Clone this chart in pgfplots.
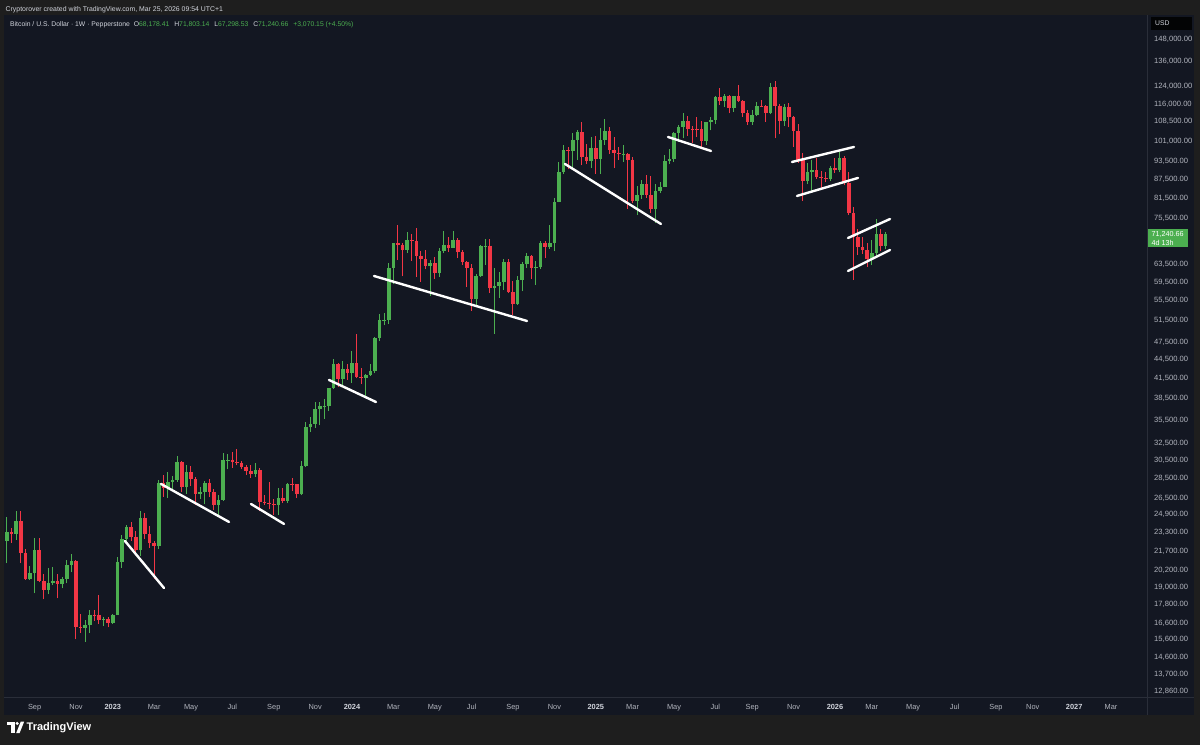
\documentclass[border=0pt]{standalone}
\usepackage{fontspec}
\setmainfont{Liberation Sans}
\usepackage{pgfplots}
\usepackage{pgfplotstable}
\pgfplotsset{compat=1.18}
\definecolor{outerbg}{HTML}{1E1E1E}
\definecolor{panebg}{HTML}{131722}
\definecolor{cgreen}{HTML}{4CAF50}
\definecolor{cred}{HTML}{F23645}
\definecolor{tickc}{HTML}{B2B5BE}
\definecolor{yearc}{HTML}{D1D4DC}
\definecolor{sepc}{HTML}{2A2E39}
\definecolor{hdrc}{HTML}{D1D4DC}
\definecolor{valgreen}{HTML}{4CAF50}
\newcommand{\yr}[1]{{\color{yearc}\bfseries #1}}

\pgfplotstableread{
w o h l c
0 22580 24670 20750 23300
1 23300 23650 22400 23180
2 23180 25200 22670 24300
3 24300 25200 20770 21530
4 21530 21900 19530 19550
5 19550 20580 19500 19990
6 19990 22800 18540 21830
7 21830 22790 19320 19420
8 19420 19950 18125 18800
9 18800 20400 18470 19310
10 19310 20480 19160 19420
11 19420 19950 18200 19200
12 19200 19700 18900 19570
13 19570 21020 19250 20630
14 20630 21480 20050 20920
15 20920 21050 15600 16330
16 16330 17190 16000 16280
17 16280 16800 15480 16450
18 16450 17400 16000 17120
19 17120 17430 16750 17090
20 17090 18400 16530 16780
21 16780 16940 16400 16840
22 16840 16970 16330 16610
23 16610 17180 16520 17130
24 17130 21260 17100 20880
25 20880 23080 20400 22700
26 22700 23950 22300 23740
27 23740 24250 22600 22930
28 22930 23400 21450 21780
29 21780 25250 21350 24630
30 24630 25100 22700 23160
31 23160 23880 21970 22430
32 22430 22600 19570 22130
33 22130 28400 21900 27990
34 27990 28870 26650 27480
35 27480 29180 26520 28170
36 28170 28800 27200 28330
37 28330 31000 28170 30300
38 30300 30480 27130 27590
39 27590 30030 26950 29230
40 29230 29840 27700 28430
41 28430 28640 25850 26920
42 26920 27650 26380 27110
43 27110 28200 25880 28080
44 28080 28450 26600 27110
45 27110 27400 25350 25840
46 25840 26800 24800 26340
47 26340 31400 26250 30520
48 30520 31270 29500 30600
49 30600 31500 29700 30290
50 30290 31800 29950 30230
51 30230 30430 29500 29780
52 29780 29980 28900 29280
53 29280 30000 28600 29050
54 29050 30250 28700 29400
55 29400 29680 25200 26100
56 26100 26800 25800 26050
57 26050 28150 25400 25870
58 25870 26400 24900 25840
59 25840 27480 24900 26530
60 26530 27480 26000 26250
61 26250 28050 26000 27980
62 27980 28600 27200 27920
63 27920 27980 26500 26860
64 26860 30400 26800 29900
65 29900 35200 29800 34530
66 34530 35900 33940 35010
67 35010 37980 34500 37060
68 37060 37980 34800 37360
69 37360 38440 35650 37450
70 37450 40000 36700 39970
71 39970 44700 39900 43780
72 43780 44000 40200 41360
73 41360 44300 40550 42990
74 42990 43800 41300 42280
75 42280 45900 40750 43950
76 43950 49000 41500 41700
77 41700 43200 40600 41580
78 41580 42200 38500 42030
79 42030 43860 41880 42580
80 42580 48500 42270 48300
81 48300 52800 47700 51650
82 51650 52950 50600 51730
83 51730 64000 50900 62700
84 62700 69000 59000 68950
85 68950 73800 64600 68400
86 68400 68900 60800 67200
87 67200 71750 66500 69650
88 69650 71300 64500 69360
89 69360 72800 60700 65700
90 65700 66900 59600 64950
91 64950 67200 62400 63100
92 63100 64700 56500 63900
93 63900 65500 60200 61480
94 61480 67700 60700 66950
95 66950 71950 66300 68500
96 68500 70600 66600 67750
97 67750 71950 67600 69650
98 69650 70200 65100 66650
99 66650 67200 63400 64250
100 64250 64500 58400 62700
101 62700 63800 53500 55850
102 55850 61400 54300 60800
103 60800 68400 60700 68160
104 68160 70000 63400 68250
105 68250 70000 57100 58150
106 58150 62700 49000 58700
107 58700 61800 56100 59500
108 59500 65000 57800 64200
109 64200 64900 57200 57300
110 57300 59800 52550 54850
111 54850 61000 54600 59950
112 59950 64150 57500 63600
113 63600 66500 62700 65650
114 65650 65800 60200 62820
115 62820 64500 58900 62870
116 62870 69400 62500 69000
117 69000 69500 65100 68000
118 68000 73600 67500 68800
119 68800 81500 66800 80400
120 80400 93500 80200 89850
121 89850 99600 89400 97700
122 97700 98900 90800 97300
123 97300 104000 90500 101200
124 101200 105300 94200 104400
125 104400 108300 92200 95100
126 95100 99900 92500 93700
127 93700 102500 91200 98300
128 98300 102700 89300 94500
129 94500 106000 89300 101300
130 101300 109500 99500 104800
131 104800 106400 96200 97700
132 97700 102500 91200 96500
133 96500 98800 94100 96100
134 96100 99500 93400 96300
135 96300 96500 78200 94200
136 94200 95000 80000 80700
137 80700 85300 76600 82600
138 82600 87400 81200 86100
139 86100 88800 81600 82400
140 82400 88500 77100 78400
141 78400 86100 74400 83700
142 83700 86500 83000 85100
143 85100 95800 85000 93700
144 93700 97900 92800 94300
145 94300 104300 93400 104100
146 104100 107100 100700 106400
147 106400 112000 102000 109000
148 109000 110700 103000 105700
149 105700 106800 100300 105600
150 105600 110500 102600 105500
151 105500 108900 98200 100900
152 100900 108500 99600 108400
153 108400 110500 105100 109200
154 109200 119500 107500 119000
155 119000 123200 115700 117300
156 117300 120200 114700 119400
157 119400 119800 112000 114200
158 114200 119300 112600 119300
159 119300 124500 116800 117400
160 117400 117600 110600 112000
161 112000 113300 107300 108300
162 108300 113400 107300 111200
163 111200 116800 110700 115300
164 115300 117900 114800 115200
165 115200 115400 108600 112200
166 112200 125700 111600 123500
167 123500 126200 102000 115200
168 115200 116000 103500 108700
169 108700 116000 106800 114500
170 114500 116400 106300 110600
171 110600 110800 98900 104700
172 104700 107500 93000 94200
173 94200 96600 80600 86900
174 86900 93000 86000 89800
175 89800 94100 83800 90500
176 90500 94600 87600 88400
177 88400 90300 84400 87900
178 87900 90000 86500 87500
179 87500 91800 86800 91400
180 91400 94800 89500 90600
181 90600 97000 89800 94800
182 94800 95500 85500 86200
183 86200 89900 76500 77000
184 77000 79000 60000 70400
185 70400 72500 66000 68000
186 68000 70500 66200 67000
187 67000 69000 63000 64900
188 64900 69600 63500 66400
189 66400 75500 65500 71200
190 71200 72600 66800 68178
191 68178 71803 67298 71240
}\ohlc

\begin{document}
\begin{tikzpicture}[x=1pt,y=1pt]
\useasboundingbox (0,0) rectangle (1200,745);
\fill[outerbg] (0,0) rectangle (1200,745);
\fill[panebg] (4,30) rectangle (1194,730);
\draw[sepc, line width=0.8pt] (1147,30) -- (1147,730);
\draw[sepc, line width=0.8pt] (4,47.5) -- (1194,47.5);

\begin{axis}[
  at={(4pt,48pt)}, anchor=south west,
  width=1143pt, height=682pt, scale only axis,
  xmin=-0.652, xmax=247.83,
  ymode=log, ymin=12577, ymax=161925,
  axis line style={draw=none},
  tick style={draw=none},
  major tick length=0pt, minor tick num=0,
  xtick={6,15,23,32,40,49,58,67,75,84,93,101,110,119,128,136,145,154,162,171,180,188,197,206,215,223,232,240},
  xticklabels={Sep,Nov,\yr{2023},Mar,May,Jul,Sep,Nov,\yr{2024},Mar,May,Jul,Sep,Nov,\yr{2025},Mar,May,Jul,Sep,Nov,\yr{2026},Mar,May,Jul,Sep,Nov,\yr{2027},Mar},
  xticklabel style={anchor=base, yshift=-13pt, font=\fontsize{7.4}{8.5}\selectfont, text=tickc},
  ytick={12860,13700,14600,15600,16600,17800,19000,20200,21700,23300,24900,26500,28500,30500,32500,35500,38500,41500,44500,47500,51500,55500,59500,63500,75500,81500,87500,93500,101000,108500,116000,124000,136000,148000},
  yticklabels={{12,860.00},{13,700.00},{14,600.00},{15,600.00},{16,600.00},{17,800.00},{19,000.00},{20,200.00},{21,700.00},{23,300.00},{24,900.00},{26,500.00},{28,500.00},{30,500.00},{32,500.00},{35,500.00},{38,500.00},{41,500.00},{44,500.00},{47,500.00},{51,500.00},{55,500.00},{59,500.00},{63,500.00},{75,500.00},{81,500.00},{87,500.00},{93,500.00},{101,000.00},{108,500.00},{116,000.00},{124,000.00},{136,000.00},{148,000.00}},
  yticklabel pos=right,
  yticklabel style={anchor=west, xshift=3.7pt, font=\fontsize{7.6}{8.5}\selectfont, text=tickc},
]
\pgfplotsforeachungrouped \ri in {0,...,191}{%
  \pgfplotstablegetelem{\ri}{o}\of{\ohlc}\let\vo\pgfplotsretval
  \pgfplotstablegetelem{\ri}{h}\of{\ohlc}\let\vh\pgfplotsretval
  \pgfplotstablegetelem{\ri}{l}\of{\ohlc}\let\vl\pgfplotsretval
  \pgfplotstablegetelem{\ri}{c}\of{\ohlc}\let\vc\pgfplotsretval
  \ifnum\vc<\vo\relax \def\cc{cred}\else\def\cc{cgreen}\fi
  \edef\tmp{%
    \noexpand\addplot[\cc, mark=none, line width=1pt, forget plot] coordinates {(\ri,\vl) (\ri,\vh)};%
    \noexpand\addplot[\cc, mark=none, line width=3.6pt, line cap=butt, forget plot] coordinates {(\ri,\vo) (\ri,\vc)};%
  }\tmp
}
% trend lines
\addplot[white, mark=none, line width=2.4pt, line cap=round] coordinates {(25.65,22560) (34.13,18920)};
\addplot[white, mark=none, line width=2.4pt, line cap=round] coordinates {(33.48,27940) (48.26,24230)};
\addplot[white, mark=none, line width=2.4pt, line cap=round] coordinates {(53.04,25920) (60.22,24050)};
\addplot[white, mark=none, line width=2.4pt, line cap=round] coordinates {(70.0,41250) (80.22,37980)};
\addplot[white, mark=none, line width=2.4pt, line cap=round] coordinates {(79.78,60900) (113.04,51450)};
\addplot[white, mark=none, line width=2.4pt, line cap=round] coordinates {(121.3,92660) (142.17,74000)};
\addplot[white, mark=none, line width=2.4pt, line cap=round] coordinates {(143.7,102520) (153.04,97280)};
\addplot[white, mark=none, line width=2.4pt, line cap=round] coordinates {(170.65,93350) (184.13,98750)};
\addplot[white, mark=none, line width=2.4pt, line cap=round] coordinates {(171.74,82190) (185.0,87930)};
\addplot[white, mark=none, line width=2.4pt, line cap=round] coordinates {(182.83,70220) (191.96,75400)};
\addplot[white, mark=none, line width=2.4pt, line cap=round] coordinates {(182.83,62050) (191.96,67130)};
\end{axis}

% header strip
\node[anchor=west, inner sep=0pt, text=hdrc, font=\fontsize{6.9}{8}\selectfont] at (5.5,735.5)
  {Cryptorover created with TradingView.com, Mar 25, 2026 09:54 UTC+1};
\node[anchor=west, inner sep=0pt, text=hdrc, font=\fontsize{6.8}{8}\selectfont] at (10,720.5)
  {Bitcoin / U.S. Dollar · 1W · Pepperstone\hspace{2pt} O{\color{valgreen}68,178.41}\hspace{3pt} H{\color{valgreen}71,803.14}\hspace{3pt} L{\color{valgreen}67,298.53}\hspace{3pt} C{\color{valgreen}71,240.66}\hspace{3pt} {\color{valgreen}+3,070.15 (+4.50\%)}};

% USD box
\fill[black!85!panebg] (1151,715) rectangle (1192,728);
\node[anchor=west, inner sep=0pt, text=hdrc, font=\fontsize{6.8}{8}\selectfont] at (1155,721.5) {USD};

% current price box
\fill[cgreen] (1148,498) rectangle (1188,515.5);
\node[anchor=west, inner sep=0pt, text=white, font=\fontsize{7.2}{8}\selectfont] at (1151.5,510.5) {71,240.66};
\node[anchor=west, inner sep=0pt, text=white, font=\fontsize{7.2}{8}\selectfont] at (1151.5,502.5) {4d 13h};

% TradingView logo
\fill[white] (7,20.5) rectangle (14.5,23.5);
\fill[white] (11.3,12) rectangle (14.5,23.5);
\fill[white] (17.2,21.6) circle (1.7);
\fill[white] (16.2,12) -- (19.6,12) -- (24.2,23.5) -- (20.8,23.5) -- cycle;
\node[anchor=west, inner sep=0pt, text=white, font=\fontsize{11}{13}\selectfont\bfseries] at (26.5,17.5) {TradingView};
\end{tikzpicture}
\end{document}
